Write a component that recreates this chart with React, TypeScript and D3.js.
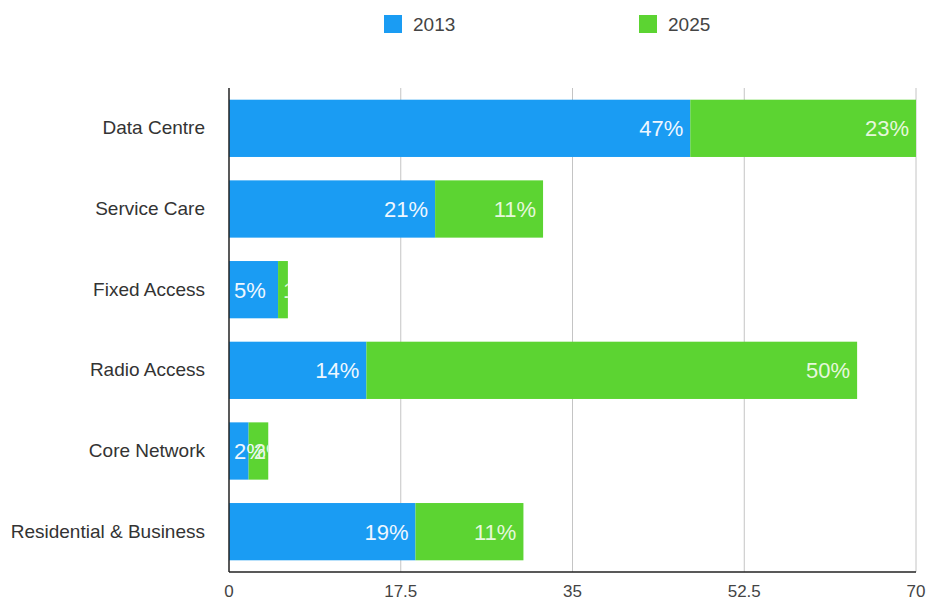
import React from "react";
import * as d3 from "d3";

const categories = ["Data Centre", "Service Care", "Fixed Access", "Radio Access", "Core Network", "Residential & Business"];
const values2013 = [47, 21, 5, 14, 2, 19];
const values2025 = [23, 11, 1, 50, 2, 11];
const seriesNames = ["2013", "2025"];
const ticks = [0, 17.5, 35, 52.5, 70];

const colors = ["#1a9cf3", "#5cd432"];

export default function App() {
  const W = 927, H = 602;
  const left = 229, right = 916, top = 88, bottom = 572;
  const x = d3.scaleLinear().domain([0, 70]).range([left, right]);
  const y = d3.scaleBand<string>().domain(categories).range([top, bottom]).paddingInner(0.29).paddingOuter(0.145);
  const font = "'Liberation Sans', Arial, sans-serif";

  const segs: any[] = [];
  categories.forEach((c, i) => {
    const a = values2013[i], b = values2025[i];
    segs.push({ c, i, s: 0, x0: 0, x1: a, v: a });
    segs.push({ c, i, s: 1, x0: a, x1: a + b, v: b });
  });

  return (
    <svg width={W} height={H} style={{ position: "absolute", left: 0, top: 0, background: "#fff" }}>
      <defs>
        {segs.map((d, k) => (
          <clipPath id={`clip${k}`} key={k}>
            <rect x={x(d.x0)} y={y(d.c)} width={x(d.x1) - x(d.x0)} height={y.bandwidth()} />
          </clipPath>
        ))}
      </defs>
      {/* legend */}
      {seriesNames.map((n, i) => {
        const lx = i === 0 ? 384 : 639;
        return (
          <g key={n}>
            <rect x={lx} y={15} width={18} height={18} fill={colors[i]} />
            <text x={lx + 29} y={31} fontFamily={font} fontSize={19} fill="#444">{n}</text>
          </g>
        );
      })}
      {/* grid */}
      {ticks.slice(1).map(t => (
        <line key={t} x1={x(t)} x2={x(t)} y1={top} y2={bottom} stroke="#c4c4c4" strokeWidth={1} />
      ))}
      {/* bars */}
      {segs.map((d, k) => (
        <rect key={k} x={x(d.x0)} y={y(d.c)} width={x(d.x1) - x(d.x0)} height={y.bandwidth()} fill={colors[d.s]} />
      ))}
      {/* value labels */}
      {segs.map((d, k) => {
        const w = x(d.x1) - x(d.x0);
        const narrow = w < 50;
        const tx = narrow ? x(d.x0) + 5 : x(d.x1) - 7;
        return (
          <text key={k} x={tx} y={y(d.c)! + y.bandwidth() / 2 + 8} textAnchor={narrow ? "start" : "end"}
            fontFamily={font} fontSize={22} fill={d.s === 0 ? "#eef7ff" : "#e6f8dc"}
            clipPath={narrow && d.s === 1 ? `url(#clip${k})` : undefined}>
            {d.v}%
          </text>
        );
      })}
      {/* axes */}
      <line x1={left} x2={left} y1={top} y2={bottom} stroke="#222" strokeWidth={1.5} />
      <line x1={left} x2={right} y1={bottom} y2={bottom} stroke="#222" strokeWidth={1.5} />
      {categories.map(c => (
        <text key={c} x={205} y={y(c)! + y.bandwidth() / 2 + 6} textAnchor="end" fontFamily={font} fontSize={19} fill="#333">{c}</text>
      ))}
      {ticks.map(t => (
        <text key={t} x={x(t)} y={597} textAnchor="middle" fontFamily={font} fontSize={17} fill="#444">{t}</text>
      ))}
    </svg>
  );
}
